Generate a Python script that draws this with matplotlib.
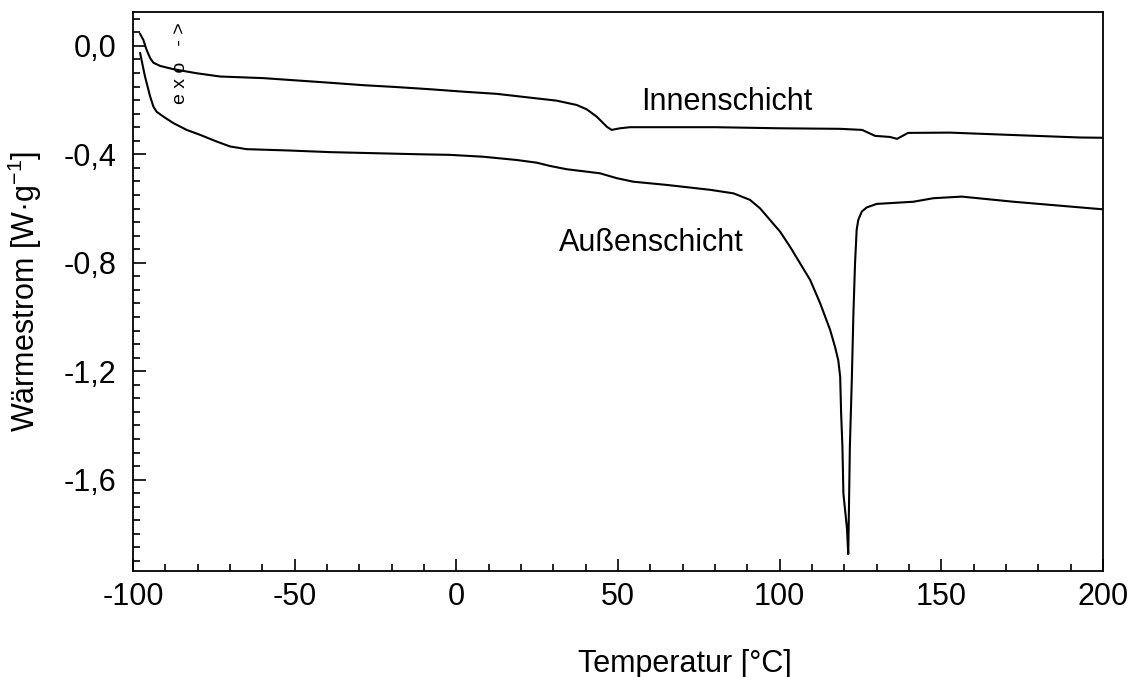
# coding=utf-8
import matplotlib
matplotlib.use("Agg")
import matplotlib.pyplot as plt
from matplotlib.ticker import MultipleLocator, FuncFormatter

plt.rcParams['font.family'] = ['Liberation Sans', 'DejaVu Sans']
plt.rcParams['mathtext.fontset'] = 'custom'
plt.rcParams['mathtext.rm'] = 'Liberation Sans'
plt.rcParams['axes.unicode_minus'] = False

# DSC-Kurven: Temperatur [°C] und Wärmestrom [W/g]
temp_innen = [-97.8, -96.8, -95.8, -94.7, -93.7, -91.6, -87.5, -80.3, -73.1, -59.7,
              -39.1, -28.8, -18.4, -8.1, 2.2, 12.5, 22.8, 31.0, 37.2, 40.3,
              43.4, 46.5, 48.0, 50.6, 53.7, 80.0, 100.0, 118.7, 125.5, 129.5,
              134.1, 136.3, 139.7, 152.7, 170.3, 192.9, 200.0]
wf_innen = [0.044, 0.022, -0.015, -0.045, -0.062, -0.074, -0.086, -0.101, -0.113, -0.119,
            -0.136, -0.145, -0.152, -0.160, -0.169, -0.177, -0.191, -0.202, -0.218, -0.234,
            -0.261, -0.298, -0.310, -0.304, -0.300, -0.300, -0.304, -0.306, -0.310, -0.332,
            -0.336, -0.343, -0.321, -0.320, -0.328, -0.338, -0.339]

temp_aussen = [-97.8, -96.3, -94.7, -93.7, -92.7, -90.6, -87.5, -83.4, -79.3, -74.1,
               -70.0, -64.9, -51.6, -39.0, -11.0, -2.0, 8.4, 18.7, 24.9, 29.0,
               34.1, 44.4, 49.6, 54.7, 65.1, 78.5, 85.7, 90.8, 93.9, 100.1,
               103.2, 106.3, 109.4, 112.5, 115.6, 117.1, 118.1, 118.7, 119.0, 119.4,
               119.7, 120.8, 121.2, 121.7, 122.3, 122.8, 123.3, 123.8, 124.3, 125.4,
               126.9, 130.0, 141.3, 147.5, 156.3, 172.3, 200.0]
wf_aussen = [-0.027, -0.113, -0.187, -0.224, -0.243, -0.261, -0.285, -0.310, -0.328, -0.353,
             -0.371, -0.381, -0.386, -0.392, -0.400, -0.402, -0.409, -0.421, -0.431, -0.443,
             -0.455, -0.470, -0.488, -0.501, -0.513, -0.531, -0.544, -0.568, -0.599, -0.685,
             -0.741, -0.802, -0.863, -0.949, -1.048, -1.110, -1.159, -1.220, -1.356, -1.479,
             -1.651, -1.780, -1.875, -1.479, -1.232, -0.986, -0.802, -0.679, -0.642, -0.611,
             -0.596, -0.583, -0.575, -0.562, -0.556, -0.575, -0.603]

fig = plt.figure(figsize=(11.34, 6.77), dpi=100)
ax = fig.add_axes([0.1173, 0.1566, 0.8554, 0.8257])

ax.plot(temp_innen, wf_innen, color='black', linewidth=1.5)
ax.plot(temp_aussen, wf_aussen, color='black', linewidth=1.5)

ax.set_xlim(-100, 200)
ax.set_ylim(-1.937, 0.125)

ax.xaxis.set_major_locator(MultipleLocator(50))
ax.xaxis.set_minor_locator(MultipleLocator(10))
ax.yaxis.set_major_locator(MultipleLocator(0.4))
ax.yaxis.set_minor_locator(MultipleLocator(0.05))
ax.yaxis.set_major_formatter(FuncFormatter(lambda v, p: ('%.1f' % v).replace('.', ',').replace('-0,0', '0,0')))

ax.tick_params(which='both', direction='in', top=False, right=False, labelsize=22, width=1.2)
ax.tick_params(which='major', length=9)
ax.tick_params(which='minor', length=5)
ax.tick_params(axis='x', pad=8)
ax.tick_params(axis='y', pad=12)
for sp in ax.spines.values():
    sp.set_linewidth(1.3)

ax.set_xlabel('Temperatur [°C]', fontsize=22)
ax.xaxis.set_label_coords(0.569, -0.14)
ax.set_ylabel('Wärmestrom [W·g$^{\\mathregular{-1}}$]', fontsize=22, labelpad=14)

ax.text(83.7, -0.207, 'Innenschicht', fontsize=22, ha='center', va='center')
ax.text(60.2, -0.727, 'Außenschicht', fontsize=22, ha='center', va='center')
ax.text(-85.2, -0.062, 'e x o   - >', fontsize=14, rotation=90, ha='center', va='center')

fig.savefig('out.png', dpi=100)
